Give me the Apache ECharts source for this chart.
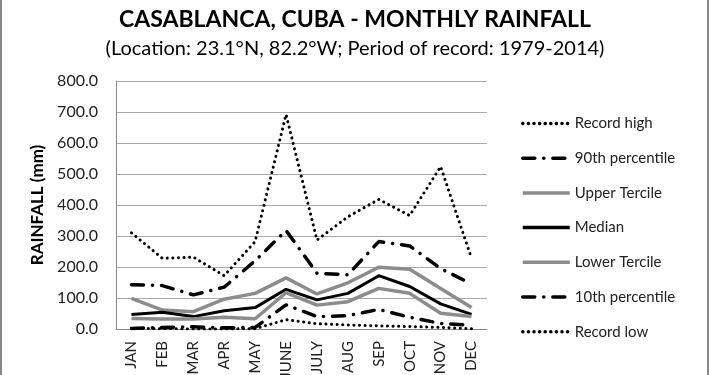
<!DOCTYPE html>
<html>
<head>
<meta charset="utf-8">
<script src="https://cdn.jsdelivr.net/npm/echarts@6/dist/echarts.min.js"></script>
<style>html,body{margin:0;padding:0;background:#fff}#c{width:710px;height:375px}</style>
</head>
<body>
<div id="c"></div>
<script>
var months = ['JAN','FEB','MAR','APR','MAY','JUNE','JULY','AUG','SEP','OCT','NOV','DEC'];
var yTicks = [0,100,200,300,400,500,600,700,800];
var recordHigh   = [310, 228, 232, 172, 282, 692, 287, 362, 418, 366, 524, 228];
var p90          = [143, 140, 110, 135, 220, 318, 180, 175, 282, 268, 195, 145];
var upperTercile = [99, 61, 56, 96, 115, 165, 113, 149, 199, 193, 131, 69];
var median       = [47, 54, 40, 59, 69, 128, 94, 115, 172, 137, 81, 47];
var lowerTercile = [34, 32, 32, 38, 33, 117, 77, 88, 131, 115, 51, 40];
var p10          = [2, 5, 7, 4, 5, 78, 40, 43, 63, 38, 18, 12];
var recordLow    = [2, 1, 0, 0, 1, 30, 17, 13, 10, 8, 5, 1];

var FONT = 'Lato, "Open Sans", sans-serif';
var chart = echarts.init(document.getElementById('c'), null, {renderer:'canvas'});
function ser(name, data, color, width, type, cap) {
  return {
    name: name, type: 'line', data: data, symbol: 'none', showSymbol: false,
    lineStyle: {color: color, width: width, type: type, cap: cap || 'butt'},
    itemStyle: {color: color}, animation: false, z: 3
  };
}
var dotted = [0.1, 5.5];
var dashDot = [12, 9, 0.1, 9];
chart.setOption({
  animation: false,
  title: [
    {text: 'CASABLANCA, CUBA - MONTHLY RAINFALL', left: 'center', top: 3,
     textStyle: {fontFamily: FONT, fontSize: 23, fontWeight: 'bold', color: '#000'}},
    {text: '(Location: 23.1°N, 82.2°W; Period of record: 1979-2014)', left: 'center', top: 34,
     textStyle: {fontFamily: FONT, fontSize: 20, fontWeight: 'normal', color: '#000'}}
  ],
  grid: {left: 116, right: 223, top: 81, bottom: 46, containLabel: false, outerBoundsMode: 'none'},
  legend: {
    orient: 'vertical', left: 516, top: 111, itemWidth: 47, itemHeight: 14, itemGap: 19.7,
    itemStyle: {opacity: 0},
    lineStyle: {width: 3.5},
    textStyle: {fontFamily: FONT, fontSize: 15, color: '#222'},
    data: ['Record high','90th percentile','Upper Tercile','Median','Lower Tercile','10th percentile','Record low']
  },
  xAxis: {
    type: 'category', data: months, boundaryGap: true,
    axisLine: {lineStyle: {color: '#888', width: 1}},
    axisTick: {show: false},
    axisLabel: {rotate: 90, margin: 12, fontFamily: FONT, fontSize: 15, color: '#222', interval: 0}
  },
  yAxis: {
    type: 'value', min: yTicks[0], max: yTicks[yTicks.length-1], interval: 100,
    name: 'RAINFALL (mm)', nameLocation: 'middle', nameGap: 70, nameRotate: 90,
    nameTextStyle: {fontFamily: FONT, fontSize: 17, fontWeight: 'bold', color: '#000'},
    axisLine: {show: true, lineStyle: {color: '#888', width: 1}},
    axisTick: {show: false},
    axisLabel: {formatter: function(v){return v.toFixed(1);}, margin: 18, fontFamily: FONT, fontSize: 16, color: '#222'},
    splitLine: {lineStyle: {color: '#aaa', width: 1}}
  },
  graphic: [
    {type: 'line', shape: {x1: 1, y1: 0, x2: 1, y2: 375}, style: {stroke: '#888', lineWidth: 2}},
    {type: 'line', shape: {x1: 708, y1: 0, x2: 708, y2: 375}, style: {stroke: '#888', lineWidth: 2}}
  ],
  series: [
    ser('Record high', recordHigh, '#000', 3, dotted, 'round'),
    ser('90th percentile', p90, '#000', 3.5, dashDot, 'round'),
    ser('Upper Tercile', upperTercile, '#8c8c8c', 3.5, 'solid'),
    ser('Median', median, '#000', 3, 'solid'),
    ser('Lower Tercile', lowerTercile, '#8c8c8c', 3.5, 'solid'),
    ser('10th percentile', p10, '#000', 3.5, dashDot, 'round'),
    ser('Record low', recordLow, '#000', 3, dotted, 'round')
  ]
});
</script>
</body>
</html>
